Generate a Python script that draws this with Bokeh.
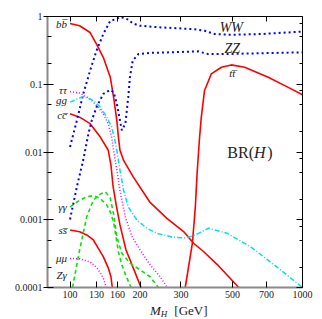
from bokeh.plotting import figure
from bokeh.models import LogAxis, FixedTicker, CustomJSTickFormatter, Div
from bokeh.layouts import column
from bokeh.embed import file_html
from bokeh.resources import INLINE
from bokeh.core.properties import value

# ---- data (Higgs mass in GeV, branching ratio) ----
bb_m = [100, 110, 122, 130, 139, 149, 154, 159, 161.5, 164, 170, 187, 221, 261, 308, 340, 375, 429, 532]
bb_br = [0.79, 0.73, 0.58, 0.39, 0.25, 0.127, 0.064, 0.029, 0.0166, 0.0106, 0.0075, 0.0043, 0.0018, 0.00105, 0.00067, 0.00045, 0.00034, 0.00022, 0.0001]

cc_m = [100, 110, 122, 135, 146, 150, 153, 158, 164, 174, 187, 202]
cc_br = [0.0367, 0.0327, 0.0262, 0.0166, 0.0106, 0.0064, 0.0032, 0.00164, 0.00084, 0.00036, 0.000195, 0.0001]

ss_m = [100, 110, 118, 126, 132, 139, 146, 150, 152]
ss_br = [0.000706, 0.000667, 0.000596, 0.000503, 0.000384, 0.000286, 0.000195, 0.000144, 0.0001]

tt_m = [313, 336, 346, 352, 360, 367, 379, 405, 448, 494, 564, 712, 868, 1000]
tt_br = [0.0001, 0.00045, 0.00155, 0.0048, 0.0149, 0.0327, 0.081, 0.142, 0.178, 0.193, 0.178, 0.127, 0.090, 0.070]

ww_m = [100, 107, 114, 122, 130, 139, 149, 159, 163, 170, 178, 186, 200, 247, 343, 379, 419, 494, 666, 1000]
ww_br = [0.0119, 0.0292, 0.072, 0.159, 0.313, 0.551, 0.865, 0.92, 0.98, 0.96, 0.9, 0.79, 0.73, 0.69, 0.65, 0.616, 0.551, 0.538, 0.551, 0.60]

zz_m = [100, 107, 114, 120, 124, 130, 139, 149, 154, 159, 163, 167, 173, 178, 181, 186, 197, 221, 270, 355, 392, 478, 1000]
zz_br = [0.00101, 0.00306, 0.0076, 0.0187, 0.0292, 0.0459, 0.0722, 0.0827, 0.0763, 0.0515, 0.0327, 0.0209, 0.0262, 0.0644, 0.127, 0.223, 0.28, 0.29, 0.296, 0.306, 0.28, 0.28, 0.296]

tau_m = [100, 110, 122, 130, 139, 146, 151, 154, 159, 164, 173, 185, 200, 221, 244, 262]
tau_br = [0.078, 0.074, 0.061, 0.0486, 0.0367, 0.0262, 0.0166, 0.0106, 0.0054, 0.0027, 0.0011, 0.00056, 0.00036, 0.000216, 0.000144, 0.0001]

mumu_m = [100, 110, 122, 130, 136, 140, 143]
mumu_br = [0.000269, 0.000265, 0.000239, 0.000198, 0.000159, 0.00013, 0.0001]

gg_m = [100, 114, 126, 135, 144, 151, 156, 159, 164, 170, 178, 194, 214, 237, 279, 313, 340, 395, 474, 597, 778, 1000]
gg_br = [0.0544, 0.066, 0.0576, 0.0459, 0.0327, 0.0233, 0.0149, 0.0106, 0.0054, 0.0027, 0.00155, 0.00099, 0.00075, 0.00063, 0.00055, 0.00054, 0.00058, 0.00075, 0.00063, 0.0004, 0.0002, 0.0001]

gaga_m = [100, 110, 118, 126, 135, 144, 149, 154, 158, 161.5, 167, 174, 183]
gaga_br = [0.00155, 0.00195, 0.00218, 0.00227, 0.00206, 0.00164, 0.0013, 0.00092, 0.00054, 0.000335, 0.000216, 0.000149, 0.0001]

zga_m = [102.5, 110, 118, 126, 135, 142, 149, 154, 159, 167, 181, 200, 221, 240]
zga_br = [0.0001, 0.00036, 0.00111, 0.00195, 0.00239, 0.00258, 0.00209, 0.00121, 0.00056, 0.00032, 0.000229, 0.000182, 0.000144, 0.0001]

x_ticks = [100, 130, 160, 200, 300, 500, 700, 1000]
y_ticks = [0.0001, 0.001, 0.01, 0.1, 1]
y_minor = [m * 10.0 ** e for e in range(-4, 0) for m in (2, 5)]
y_minor_right = [m * 10.0 ** e for e in range(-4, 0) for m in (2, 5, 8)]

left_labels = ["b" + "b\u0305", "\u03c4\u03c4", "gg", "c" + "c\u0305", "\u03b3\u03b3", "s" + "s\u0305", "\u03bc\u03bc", "Z\u03b3"]
left_label_y = [0.78, 0.081, 0.0576, 0.0347, 0.00154, 0.000706, 0.000275, 0.000155]
left_label_x = 97

# ---- figure ----
p = figure(width=316, height=303, x_axis_type="log", y_axis_type="log",
           x_range=(80, 1000), y_range=(1e-4, 1),
           output_backend="svg", toolbar_location=None,
           min_border_left=47, min_border_right=14, min_border_top=16, min_border_bottom=16)
p.grid.visible = False
p.outline_line_color = None
p.background_fill_color = "white"
p.border_fill_color = "white"

fmt = CustomJSTickFormatter(code="return String(tick);")
blank = CustomJSTickFormatter(code="return '';")
FONT = "Liberation Serif"

xa = p.xaxis[0]
xa.ticker = FixedTicker(ticks=x_ticks, minor_ticks=[])
xa.formatter = fmt
xa.axis_line_color = "#8a8a8a"
xa.axis_line_width = 2
xa.major_tick_in = 6
xa.major_tick_out = 0
xa.minor_tick_in = 0
xa.minor_tick_out = 0
xa.major_label_standoff = 3
xa.major_label_text_font = FONT
xa.major_label_text_font_size = "10px"
xa.major_label_text_color = "#222222"

ya = p.yaxis[0]
ya.ticker = FixedTicker(ticks=y_ticks, minor_ticks=y_minor)
ya.formatter = fmt
ya.axis_line_color = "#8a8a8a"
ya.axis_line_width = 2
ya.major_tick_in = 6
ya.major_tick_out = 4
ya.minor_tick_in = 4
ya.minor_tick_out = 0
ya.major_label_standoff = 1
ya.major_label_text_font = FONT
ya.major_label_text_font_size = "10px"
ya.major_label_text_color = "#222222"

top = LogAxis(ticker=FixedTicker(ticks=x_ticks, minor_ticks=[]), formatter=blank,
              major_tick_in=5, major_tick_out=0, minor_tick_in=0, minor_tick_out=0,
              major_label_standoff=0, major_label_text_font_size="1px",
              axis_line_color="black", axis_line_width=1)
p.add_layout(top, "above")
right = LogAxis(ticker=FixedTicker(ticks=y_ticks, minor_ticks=y_minor_right), formatter=blank,
                major_tick_in=6, major_tick_out=0, minor_tick_in=3, minor_tick_out=0,
                major_label_standoff=0, major_label_text_font_size="1px",
                axis_line_color="black", axis_line_width=1)
p.add_layout(right, "right")

RED = "#ff0000"
BLUE = "#0000ff"
MAG = "#ff00ff"
CYAN = "#00e0f0"
GREEN = "#11dd11"

p.line(bb_m, bb_br, line_color=RED, line_width=1.6)
p.line(cc_m, cc_br, line_color=RED, line_width=1.6)
p.line(ss_m, ss_br, line_color=RED, line_width=1.6)
p.line(tt_m, tt_br, line_color=RED, line_width=1.6)
p.line(ww_m, ww_br, line_color=BLUE, line_width=2, line_dash="2 3")
p.line(zz_m, zz_br, line_color=BLUE, line_width=2, line_dash="2 3")
p.line(tau_m, tau_br, line_color=MAG, line_width=1.5, line_dash="1 2")
p.line(mumu_m, mumu_br, line_color=MAG, line_width=1.5, line_dash="1 2")
p.line(gg_m, gg_br, line_color=CYAN, line_width=1.5, line_dash="5 2 1 2")
p.line(gaga_m, gaga_br, line_color=GREEN, line_width=1.6, line_dash="4 3")
p.line(zga_m, zga_br, line_color=GREEN, line_width=1.6, line_dash="4 3")

# curve labels
p.text(x=[left_label_x] * len(left_labels), y=left_label_y, text=left_labels,
       text_font=value(FONT), text_font_style="italic", text_font_size="11px",
       text_align="right", text_baseline="middle", text_color="#222222")
p.text(x=[494, 499], y=[0.68, 0.335], text=["WW", "ZZ"],
       text_font=value(FONT), text_font_style="italic", text_font_size="14px",
       text_align="center", text_baseline="middle", text_color="#222222")
p.text(x=[499], y=[0.149], text=["t" + "t\u0305"],
       text_font=value(FONT), text_font_style="italic", text_font_size="11px",
       text_align="center", text_baseline="middle", text_color="#222222")
# BR(H)
p.text(x=[475], y=[0.0098], text=["BR("], text_font=value(FONT), text_font_size="16px",
       text_align="left", text_baseline="middle", text_color="#222222")
p.text(x=[619], y=[0.0098], text=["H"], text_font=value(FONT), text_font_style="italic",
       text_font_size="16px", text_align="left", text_baseline="middle", text_color="#222222")
p.text(x=[705], y=[0.0098], text=[")"], text_font=value(FONT), text_font_size="16px",
       text_align="left", text_baseline="middle", text_color="#222222")

# x-axis title: M_H [GeV]  (below the plot, as real text)
xlabel = Div(
    text=("<span style=\"font-family:'Liberation Serif';font-size:13px;line-height:13px;color:#222222;"
          "position:relative;top:-4px;white-space:nowrap;\">"
          "<i>M</i><i style=\"font-size:9px;position:relative;top:2px;\">H</i>"
          "<span style=\"margin-left:7px;\">[GeV]</span></span>"),
    width=316, height=16,
    styles={"padding-left": "145px", "overflow": "visible", "line-height": "13px"},
)

layout = column(p, xlabel, spacing=0)
open("out.html", "w").write(file_html(layout, INLINE))
